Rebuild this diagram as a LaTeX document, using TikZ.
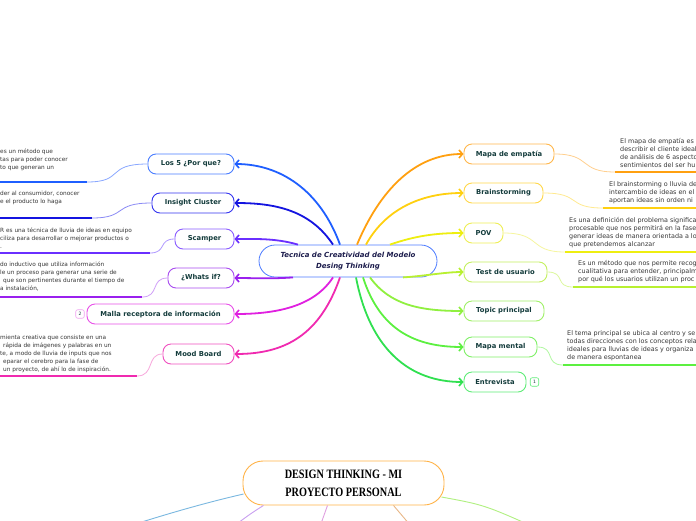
\documentclass[tikz,border=0pt]{standalone}
\usepackage{fontspec}
\setmainfont{DejaVu Sans}
\newfontfamily\titlefont[FakeStretch=0.8]{Liberation Serif}
\usetikzlibrary{arrows.meta}
\definecolor{txt}{HTML}{143C3C}
\definecolor{notec}{HTML}{383838}
\definecolor{ctxt}{HTML}{1C1C4C}
\definecolor{cB}{HTML}{4D7CFF}
\definecolor{losL}{HTML}{1F5FFF}\definecolor{losB}{HTML}{4A7DFF}\definecolor{losS}{HTML}{8AA8FF}
\definecolor{insL}{HTML}{1414E0}\definecolor{insB}{HTML}{3535F0}\definecolor{insS}{HTML}{8A8AF5}
\definecolor{scaL}{HTML}{6A2FFF}\definecolor{scaB}{HTML}{8A5CFF}\definecolor{scaS}{HTML}{B09AFF}
\definecolor{whaL}{HTML}{9A20EE}\definecolor{whaB}{HTML}{A84CF0}\definecolor{whaS}{HTML}{D0A0F8}
\definecolor{malL}{HTML}{E020E0}\definecolor{malB}{HTML}{E850E8}\definecolor{malS}{HTML}{F0A0F0}
\definecolor{mooL}{HTML}{F02AB0}\definecolor{mooB}{HTML}{F050C0}\definecolor{mooS}{HTML}{F8A8DC}
\definecolor{mapL}{HTML}{FFA010}\definecolor{mapB}{HTML}{FFB84D}\definecolor{mapS}{HTML}{FFD090}
\definecolor{braL}{HTML}{FFD010}\definecolor{braB}{HTML}{FFD84A}\definecolor{braS}{HTML}{FFEA90}
\definecolor{povL}{HTML}{EEEE10}\definecolor{povB}{HTML}{EEEE55}\definecolor{povS}{HTML}{F6F6A0}
\definecolor{tesL}{HTML}{B8F030}\definecolor{tesB}{HTML}{C4F060}\definecolor{tesS}{HTML}{DDF8A0}
\definecolor{topL}{HTML}{90F040}\definecolor{topB}{HTML}{A0F068}
\definecolor{mmL}{HTML}{5CF040}\definecolor{mmB}{HTML}{80F068}\definecolor{mmS}{HTML}{B0F8A0}
\definecolor{entL}{HTML}{30E050}\definecolor{entB}{HTML}{60EC78}
\definecolor{titleB}{HTML}{FFB347}
\definecolor{bBlue}{HTML}{7AB8E0}\definecolor{bPur}{HTML}{C9A0F0}\definecolor{bPink}{HTML}{E0A0E0}
\definecolor{bTan}{HTML}{E8B888}\definecolor{bGreen}{HTML}{B0F080}
\begin{document}
\begin{tikzpicture}[x=1pt,y=-1pt,
  mnode/.style={draw=#1, fill=white, rounded corners=8pt, line width=0.9pt,
    minimum height=20pt, inner sep=0pt, text=txt,
    font=\fontsize{6.8}{8}\selectfont\bfseries},
  conn/.style={draw=#1, line width=1.8pt,
    -{Straight Barb[length=3.5pt,width=8pt,line width=1.6pt]}},
  ncurve/.style={draw=#1, line width=0.8pt},
  nline/.style={draw=#1, line width=1.6pt},
  note/.style={font=\fontsize{5.8}{8}\selectfont, text=notec, align=left,
    inner sep=0pt, anchor=north west},
  rnote/.style={note, font=\fontsize{6.4}{8}\selectfont},
  badge/.style={draw=#1, fill=white, rounded corners=2pt, line width=0.6pt,
    minimum size=8.5pt, inner sep=0pt, text=txt, font=\fontsize{4.5}{5}\selectfont},
  bline/.style={draw=#1, line width=0.9pt}
]
\useasboundingbox (0,0) rectangle (696,520);
\fill[white] (0,0) rectangle (696,520);
\clip (0,0) rectangle (696,520);

% central node
\node[draw=cB, fill=white, rounded corners=16pt, line width=0.8pt,
  minimum width=178pt, minimum height=32pt, inner sep=0pt, align=center,
  text=ctxt, font=\fontsize{7}{11}\selectfont\bfseries\itshape] (c) at (348,261)
  {Tecnica de Creatividad del Modelo\\Desing Thinking};

% right nodes
\node[mnode=mapB, minimum width=90pt] (mapa) at (509,154) {Mapa de empatía};
\node[mnode=braB, minimum width=79pt] (brain) at (503.5,193) {Brainstorming};
\node[mnode=povB, minimum width=39pt] (pov) at (483.5,233) {POV};
\node[mnode=tesB, minimum width=83pt] (test) at (505.5,272) {Test de usuario};
\node[mnode=topB, minimum width=80pt] (topic) at (504,311) {Topic principal};
\node[mnode=mmB, minimum width=73pt] (mm) at (500.5,347) {Mapa mental};
\node[mnode=entB, minimum width=62pt] (entre) at (495,382) {Entrevista};
\node[badge=entB] (b1) at (534.5,382) {1};

% left nodes
\node[mnode=losB, minimum width=86pt] (los) at (191,164) {Los 5 ¿Por que?};
\node[mnode=insB, minimum width=82pt] (ins) at (193,203) {Insight Cluster};
\node[mnode=scaB, minimum width=59pt] (sca) at (204.5,239) {Scamper};
\node[mnode=whaB, minimum width=66pt] (wha) at (201,278) {¿Whats if?};
\node[mnode=malB, minimum width=147pt] (mal) at (160.5,314) {Malla receptora de información};
\node[mnode=mooB, minimum width=71pt] (moo) at (198.5,354) {Mood Board};
\node[badge=malS] (b2) at (80,314) {2};

% main connectors right
\draw[conn=mapL] ([xshift=9pt]c.north) .. controls (380,190) and (415,154) .. (mapa.west);
\draw[conn=braL] ([xshift=18pt]c.north) .. controls (385,210) and (420,193) .. (brain.west);
\draw[conn=povL] ([xshift=42pt]c.north) .. controls (415,236) and (435,233) .. (pov.west);
\draw[conn=tesL] ([xshift=55pt]c.south) .. controls (425,276) and (445,272) .. (test.west);
\draw[conn=topL] ([xshift=22pt]c.south) .. controls (390,305) and (420,311) .. (topic.west);
\draw[conn=mmL] ([xshift=15pt]c.south) .. controls (380,330) and (415,347) .. (mm.west);
\draw[conn=entL] ([xshift=8pt]c.south) .. controls (370,350) and (410,382) .. (entre.west);

% main connectors left
\draw[conn=losL] ([xshift=-8pt]c.north) .. controls (320,190) and (280,164) .. (los.east);
\draw[conn=insL] ([xshift=-15pt]c.north) .. controls (310,210) and (275,203) .. (ins.east);
\draw[conn=scaL] ([xshift=-50pt]c.north) .. controls (275,238) and (255,239) .. (sca.east);
\draw[conn=whaL] ([xshift=-55pt]c.south) .. controls (270,279) and (255,278) .. (wha.east);
\draw[conn=malL] ([xshift=-15pt]c.south) .. controls (315,305) and (280,314) .. (mal.east);
\draw[conn=mooL] ([xshift=-8pt]c.south) .. controls (320,335) and (285,354) .. (moo.east);

% note connectors left
\coordinate (u1a) at (87,182);  \coordinate (u1b) at (-5,182);
\coordinate (u2a) at (92,218);  \coordinate (u2b) at (-5,218);
\coordinate (u3a) at (150,253); \coordinate (u3b) at (-5,253);
\coordinate (u4a) at (142,297); \coordinate (u4b) at (-5,297);
\coordinate (u5a) at (137,376); \coordinate (u5b) at (-5,376);
\draw[ncurve=losS] (los.west) .. controls (105,164) and (125,182) .. (u1a);
\draw[nline=losL] (u1a) -- (u1b);
\draw[ncurve=insS] (ins.west) .. controls (112,203) and (128,218) .. (u2a);
\draw[nline=insL] (u2a) -- (u2b);
\draw[ncurve=scaS] (sca.west) .. controls (158,239) and (167,253) .. (u3a);
\draw[nline=scaL] (u3a) -- (u3b);
\draw[ncurve=whaS] (wha.west) .. controls (150,278) and (160,297) .. (u4a);
\draw[nline=whaL] (u4a) -- (u4b);
\draw[ncurve=mooS] (moo.west) .. controls (146,354) and (155,376) .. (u5a);
\draw[nline=mooL] (u5a) -- (u5b);

% note connectors right
\coordinate (v1a) at (615,172); \coordinate (v1b) at (700,172);
\coordinate (v2a) at (603,208); \coordinate (v2b) at (700,208);
\coordinate (v3a) at (565,252); \coordinate (v3b) at (700,252);
\coordinate (v4a) at (573,287); \coordinate (v4b) at (700,287);
\coordinate (v5a) at (563,365); \coordinate (v5b) at (700,365);
\draw[ncurve=mapS] (mapa.east) .. controls (592,154) and (578,172) .. (v1a);
\draw[nline=mapL] (v1a) -- (v1b);
\draw[ncurve=braS] (brain.east) .. controls (582,193) and (566,208) .. (v2a);
\draw[nline=braL] (v2a) -- (v2b);
\draw[ncurve=povS] (pov.east) .. controls (542,233) and (528,252) .. (v3a);
\draw[nline=povL] (v3a) -- (v3b);
\draw[ncurve=tesS] (test.east) .. controls (566,272) and (554,287) .. (v4a);
\draw[nline=tesL] (v4a) -- (v4b);
\draw[ncurve=mmS] (mm.east) .. controls (556,347) and (544,365) .. (v5a);
\draw[nline=mmL] (v5a) -- (v5b);

% note texts left
\node[note] (n1) at (0,149) {es un método que\\tas para poder conocer\\to que generan un};
\node[note] (n2) at (0,191) {der al consumidor, conocer\\e el producto lo haga};
\node[note] (n3) at (0,228) {R es una técnica de lluvia de ideas en equipo\\ciliza para desarrollar o mejorar productos o\\.};
\node[note] (n4) at (0,262) {do inductivo que utiliza información\\le un proceso para generar una serie de\\\hspace*{3pt}que son pertinentes durante el tiempo de\\a instalación,};
\node[note] (n5) at (0,335) {mienta creativa que consiste en una\\\hspace*{3pt}rápida de imágenes y palabras en un\\te, a modo de lluvia de inputs que nos\\\hspace*{3pt}eparar el cerebro para la fase de\\\hspace*{3pt}un proyecto, de ahí lo de inspiración.};

% note texts right
\node[rnote] (r1) at (620,138) {El mapa de empatía es\\describir el cliente ideal\\de análisis de 6 aspecto\\sentimientos del ser hu};
\node[rnote] (r2) at (609,181) {El brainstorming o lluvia de\\intercambio de ideas en el\\aportan ideas sin orden ni};
\node[rnote] (r3) at (569,217) {Es una definición del problema significa\\procesable que nos permitirá en la fase\\generar ideas de manera orientada a lo\\que pretendemos alcanzar};
\node[rnote] (r4) at (578,260) {Es un método que nos permite recog\\cualitativa para entender, principalm\\por qué los usuarios utilizan un proc};
\node[rnote] (r5) at (567,330) {El tema principal se ubica al centro y se\\todas direcciones con los conceptos rela\\ideales para lluvias de ideas y organiza\\de manera espontanea};

% bottom title node
\node[draw=titleB, fill=white, line width=0.9pt, rounded corners=20pt,
  minimum width=201pt, minimum height=44pt, inner sep=0pt, align=center,
  font=\titlefont\fontsize{12.8}{18}\selectfont\bfseries] (title) at (343.5,483)
  {DESIGN THINKING - MI\\PROYECTO PERSONAL};
\coordinate (w1) at (110,532);
\coordinate (w2) at (226,532);
\coordinate (w3) at (318,532);
\coordinate (w4) at (416,532);
\coordinate (w5) at (545,532);
\draw[bline=bBlue] ([xshift=1pt,yshift=-11pt]title.west) .. controls (200,504) and (160,516) .. (w1);
\draw[bline=bPur] ([xshift=-80pt]title.south) .. controls (250,514) .. (w2);
\draw[bline=bPink] ([xshift=-16pt]title.south) -- (w3);
\draw[bline=bTan] ([xshift=50pt]title.south) -- (w4);
\draw[bline=bGreen] ([xshift=-3pt,yshift=-14pt]title.east) .. controls (485,505) .. (w5);
\end{tikzpicture}
\end{document}
